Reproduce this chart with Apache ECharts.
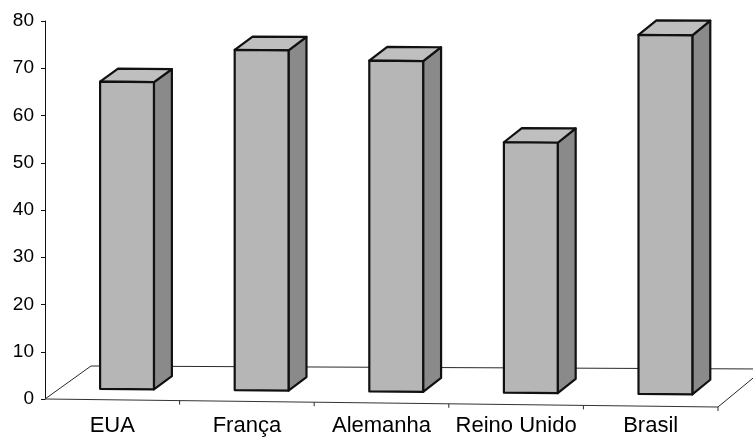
<!DOCTYPE html>
<html>
<head>
<meta charset="utf-8">
<script src="https://cdn.jsdelivr.net/npm/echarts@6/dist/echarts.min.js"></script>
<style>
  html, body { margin: 0; padding: 0; background: #ffffff; }
  #chart { width: 753px; height: 438px; }
</style>
</head>
<body>
<div id="chart"></div>
<script>
// Categories and values
const categories = ['EUA', 'França', 'Alemanha', 'Reino Unido', 'Brasil'];
const values = [65, 72, 70, 53, 76];
const yMin = 0;
const yMax = 80;
const yStep = 10;

// Pseudo-3D projection parameters (oblique floor seen from above-left)
const DX = 46;            // horizontal depth of the floor
const DY_L = -33;         // vertical depth at the left end
const DY_R = -38;         // vertical depth at the right end
const TILT = 0.0119;      // slope of the front floor edge
const T0 = 0.32;          // bar front face depth fraction
const T1 = 0.71;          // bar back face depth fraction
const BAR_FRAC = 0.40;    // bar width relative to band

const FRONT = '#b6b6b6';
const TOP = '#bfbfbf';
const SIDE = '#8a8a8a';
const EDGE = '#111111';
const FONT = '"Liberation Sans", Arial, sans-serif';

function project(cs, xf, yv, t) {
  const off = xf - cs.x;
  const u = off / cs.width;
  return [xf + t * DX, yv + off * TILT + t * (DY_L + u * (DY_R - DY_L))];
}

const chart = echarts.init(document.getElementById('chart'), null, { renderer: 'canvas' });

const barData = values.map((v, i) => [i, v]);

const option = {
  backgroundColor: '#ffffff',
  animation: false,
  grid: { left: 45, right: 35, top: 21, bottom: 39, containLabel: false },
  xAxis: {
    type: 'category',
    data: categories,
    boundaryGap: true,
    axisLine: { show: false },
    axisTick: { show: false },
    axisLabel: {
      interval: 0,
      hideOverlap: false,
      color: '#000',
      fontFamily: FONT,
      fontSize: 22,
      margin: 16
    },
    splitLine: { show: false }
  },
  yAxis: {
    type: 'value',
    min: yMin,
    max: yMax,
    interval: yStep,
    axisLine: { show: true, lineStyle: { color: '#111', width: 1 } },
    axisTick: { show: true, inside: false, length: 4, lineStyle: { color: '#111' } },
    axisLabel: { color: '#000', fontFamily: FONT, fontSize: 19, margin: 11 },
    splitLine: { show: false }
  },
  series: [
    {
      // floor outline with front-edge ticks
      type: 'custom',
      z: 1,
      clip: false,
      data: [[0, 0]],
      renderItem: function (params, api) {
        const cs = params.coordSys;
        const n = categories.length;
        const band = api.size([1, 0])[0];
        const y0 = api.coord([0, 0])[1];
        const left = api.coord([0, 0])[0] - band / 2;
        const right = api.coord([n - 1, 0])[0] + band / 2;
        const fl = project(cs, left, y0, 0);
        const fr = project(cs, right, y0, 0);
        const bl = project(cs, left, y0, 1);
        const br = project(cs, right, y0, 1);
        const line = { stroke: '#2a2a2a', lineWidth: 1 };
        const kids = [
          { type: 'polyline', shape: { points: [fr, br, bl, fl] }, style: Object.assign({ fill: null }, line) },
          { type: 'line', shape: { x1: fl[0], y1: fl[1], x2: fr[0], y2: fr[1] }, style: { stroke: '#333', lineWidth: 1.2 } }
        ];
        for (let i = 1; i <= n; i++) {
          const x = left + band * i;
          const p = project(cs, x, y0, 0);
          kids.push({ type: 'line', shape: { x1: p[0], y1: p[1], x2: p[0], y2: p[1] + 4 }, style: line });
        }
        return { type: 'group', children: kids };
      }
    },
    {
      // boxes: side, top, front faces
      type: 'custom',
      z: 2,
      clip: false,
      data: barData,
      encode: { x: 0, y: 1 },
      renderItem: function (params, api) {
        const cs = params.coordSys;
        const i = api.value(0);
        const top = api.coord([i, api.value(1)]);
        const base = api.coord([i, 0]);
        const bw = api.size([1, 0])[0] * BAR_FRAC;
        const xl = top[0] - bw / 2;
        const xr = top[0] + bw / 2;
        const flb = project(cs, xl, base[1], T0);
        const frb = project(cs, xr, base[1], T0);
        const frt = project(cs, xr, top[1], T0);
        const flt = project(cs, xl, top[1], T0);
        const blt = project(cs, xl, top[1], T1);
        const brt = project(cs, xr, top[1], T1);
        const brb = project(cs, xr, base[1], T1);
        const st = function (fill) {
          return { fill: fill, stroke: EDGE, lineWidth: 2.2, lineJoin: 'round' };
        };
        return {
          type: 'group',
          children: [
            { type: 'polygon', shape: { points: [frb, brb, brt, frt] }, style: st(SIDE) },
            { type: 'polygon', shape: { points: [flt, frt, brt, blt] }, style: st(TOP) },
            { type: 'polygon', shape: { points: [flb, frb, frt, flt] }, style: st(FRONT) }
          ]
        };
      }
    }
  ]
};

chart.setOption(option);
</script>
</body>
</html>
